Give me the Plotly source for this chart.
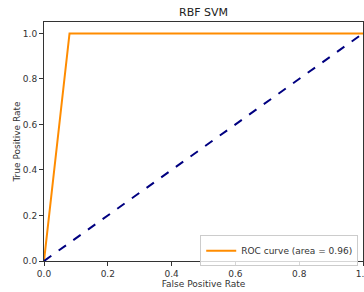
import plotly.graph_objects as go

fpr = [0.0, 0.08, 1.0]
tpr = [0.0, 1.0, 1.0]
diag = [0.0, 1.0]
roc_auc = 0.96
ticks = [0.0, 0.2, 0.4, 0.6, 0.8, 1.0]
tick_text = ["0.0", "0.2", "0.4", "0.6", "0.8", "1.0"]

fig = go.Figure()
fig.add_trace(go.Scatter(x=fpr, y=tpr, mode="lines",
                         line=dict(color="darkorange", width=2),
                         name=f"ROC curve (area = {roc_auc:.2f})"))
fig.add_trace(go.Scatter(x=diag, y=diag, mode="lines",
                         line=dict(color="navy", width=2, dash="dash"),
                         showlegend=False))

axis_common = dict(showline=True, linecolor="#333", linewidth=1, mirror=True,
                   ticks="outside", ticklen=4, tickcolor="#333", showgrid=False,
                   zeroline=False, tickfont=dict(size=9, color="#333"),
                   tickvals=ticks, ticktext=tick_text, ticklabeloverflow="allow",
                   automargin=False)

fig.update_layout(
    width=364, height=292,
    margin=dict(l=44, r=1, t=22, b=31, autoexpand=False),
    paper_bgcolor="white", plot_bgcolor="white",
    font=dict(family="DejaVu Sans", color="#333"),
    title=dict(text="RBF SVM", x=0.5, xref="paper", y=0.958, yanchor="middle",
               font=dict(size=11, color="#222")),
    xaxis=dict(range=[0, 1.0], title=dict(text="False Positive Rate", font=dict(size=9), standoff=1), **axis_common),
    yaxis=dict(range=[0, 1.05], title=dict(text="True Positive Rate", font=dict(size=9), standoff=0), **axis_common),
    legend=dict(x=0.985, y=-0.022, xanchor="right", yanchor="bottom",
                bordercolor="#ccc", borderwidth=1, bgcolor="rgba(255,255,255,0.8)",
                font=dict(size=9, color="#333"), itemwidth=30),
)

fig.write_html("out.html", config={"displayModeBar": False},
               post_script="document.body.style.margin='0';document.body.style.overflow='hidden';")
